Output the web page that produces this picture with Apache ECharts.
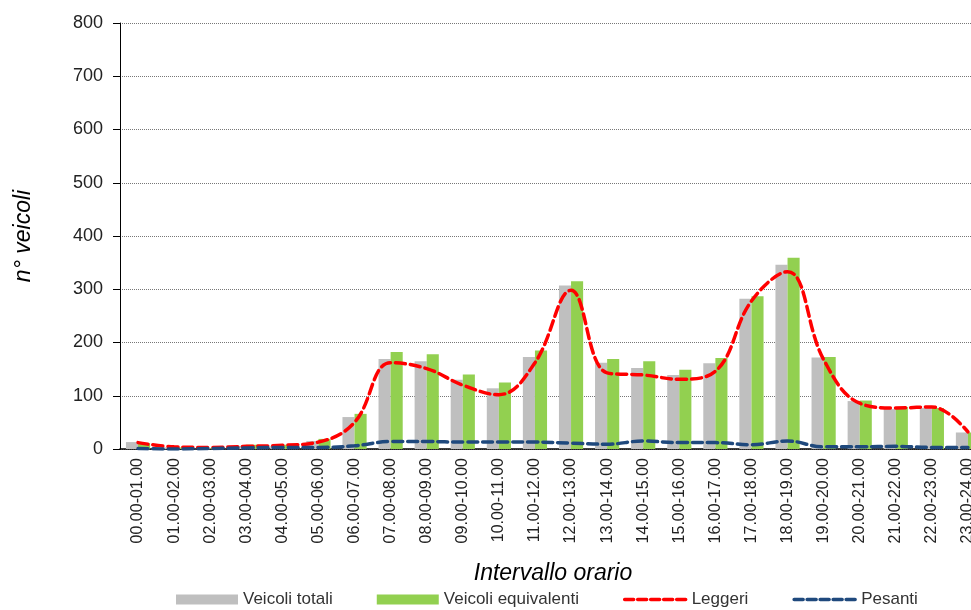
<!DOCTYPE html>
<html>
<head>
<meta charset="utf-8">
<script src="https://cdn.jsdelivr.net/npm/echarts@6/dist/echarts.min.js"></script>
<style>html,body{margin:0;padding:0;background:#fff}#c{width:971px;height:610px}</style>
</head>
<body>
<div id="c"></div>
<script>
const categories = ['00.00-01.00','01.00-02.00','02.00-03.00','03.00-04.00','04.00-05.00','05.00-06.00','06.00-07.00','07.00-08.00','08.00-09.00','09.00-10.00','10.00-11.00','11.00-12.00','12.00-13.00','13.00-14.00','14.00-15.00','15.00-16.00','16.00-17.00','17.00-18.00','18.00-19.00','19.00-20.00','20.00-21.00','21.00-22.00','22.00-23.00','23.00-24.00'];
const veicoliTotali = [13,3,2,6,6,15,60,169,165,130,114,173,307,162,152,139,161,282,346,172,90,75,77,31];
const veicoliEquivalenti = [11,3,2,8,8,19,66,182,178,140,125,185,315,169,165,149,171,287,359,173,91,79,77,31];
const leggeri = [12,4,3,5,7,13,50,162,151,120,102,162,298,143,139,131,146,278,333,168,86,77,79,32];
const pesanti = [1,0,1,2,3,3,6,14,14,13,13,13,11,9,15,12,12,8,15,4,4,5,3,3];
const yTicks = [0,100,200,300,400,500,600,700,800];

const chart = echarts.init(document.getElementById('c'));
const font = 'Liberation Sans, Arial, sans-serif';
chart.setOption({
  animation: false,
  textStyle: {fontFamily: font},
  grid: {left: 120, top: 23, width: 866, height: 426, outerBoundsMode: 'none', containLabel: false},
  legend: {
    top: 586, left: 171, itemWidth: 62, itemHeight: 10, itemGap: 44,
    textStyle: {fontSize: 17, color: '#333', fontFamily: font},
    data: [
      {name: 'Veicoli totali', icon: 'rect'},
      {name: 'Veicoli equivalenti', icon: 'rect'},
      {name: 'Leggeri', itemStyle: {opacity: 0}, lineStyle: {width: 3.5, type: [9, 4], color: '#FF0000'}},
      {name: 'Pesanti', itemStyle: {opacity: 0}, lineStyle: {width: 3.5, type: [9, 4], color: '#1F497D'}}
    ]
  },
  xAxis: {
    type: 'category', data: categories,
    name: 'Intervallo orario', nameLocation: 'middle', nameGap: 113,
    nameTextStyle: {fontSize: 23, fontStyle: 'italic', color: '#000', fontFamily: font},
    axisLine: {lineStyle: {color: '#000', width: 1.5}},
    axisTick: {show: false},
    axisLabel: {rotate: 90, fontSize: 16, color: '#222', interval: 0, margin: 9}
  },
  yAxis: {
    type: 'value', min: yTicks[0], max: yTicks[yTicks.length-1], interval: 100,
    name: 'n° veicoli', nameLocation: 'middle', nameGap: 85, nameRotate: 90,
    nameTextStyle: {fontSize: 23, fontStyle: 'italic', color: '#000', fontFamily: font},
    axisLine: {show: true, lineStyle: {color: '#000', width: 1}},
    axisTick: {show: true, length: 7, lineStyle: {color: '#000'}},
    axisLabel: {fontSize: 18, color: '#222', margin: 17},
    splitLine: {lineStyle: {color: '#777', type: 'dotted', width: 1}}
  },
  series: [
    {name: 'Veicoli totali', type: 'bar', data: veicoliTotali, barGap: '0%', barCategoryGap: '33%',
     itemStyle: {color: '#BFBFBF'}},
    {name: 'Veicoli equivalenti', type: 'bar', data: veicoliEquivalenti,
     itemStyle: {color: '#92D050'}},
    {name: 'Leggeri', type: 'line', data: leggeri, smooth: 0.4, symbol: 'none',
     lineStyle: {color: '#FF0000', width: 3.5, type: [10, 5], cap: 'round'}, itemStyle: {color: '#FF0000'}},
    {name: 'Pesanti', type: 'line', data: pesanti, smooth: 0.4, symbol: 'none',
     lineStyle: {color: '#1F497D', width: 3.5, type: [10, 5], cap: 'round'}, itemStyle: {color: '#1F497D'}}
  ]
});
</script>
</body>
</html>
